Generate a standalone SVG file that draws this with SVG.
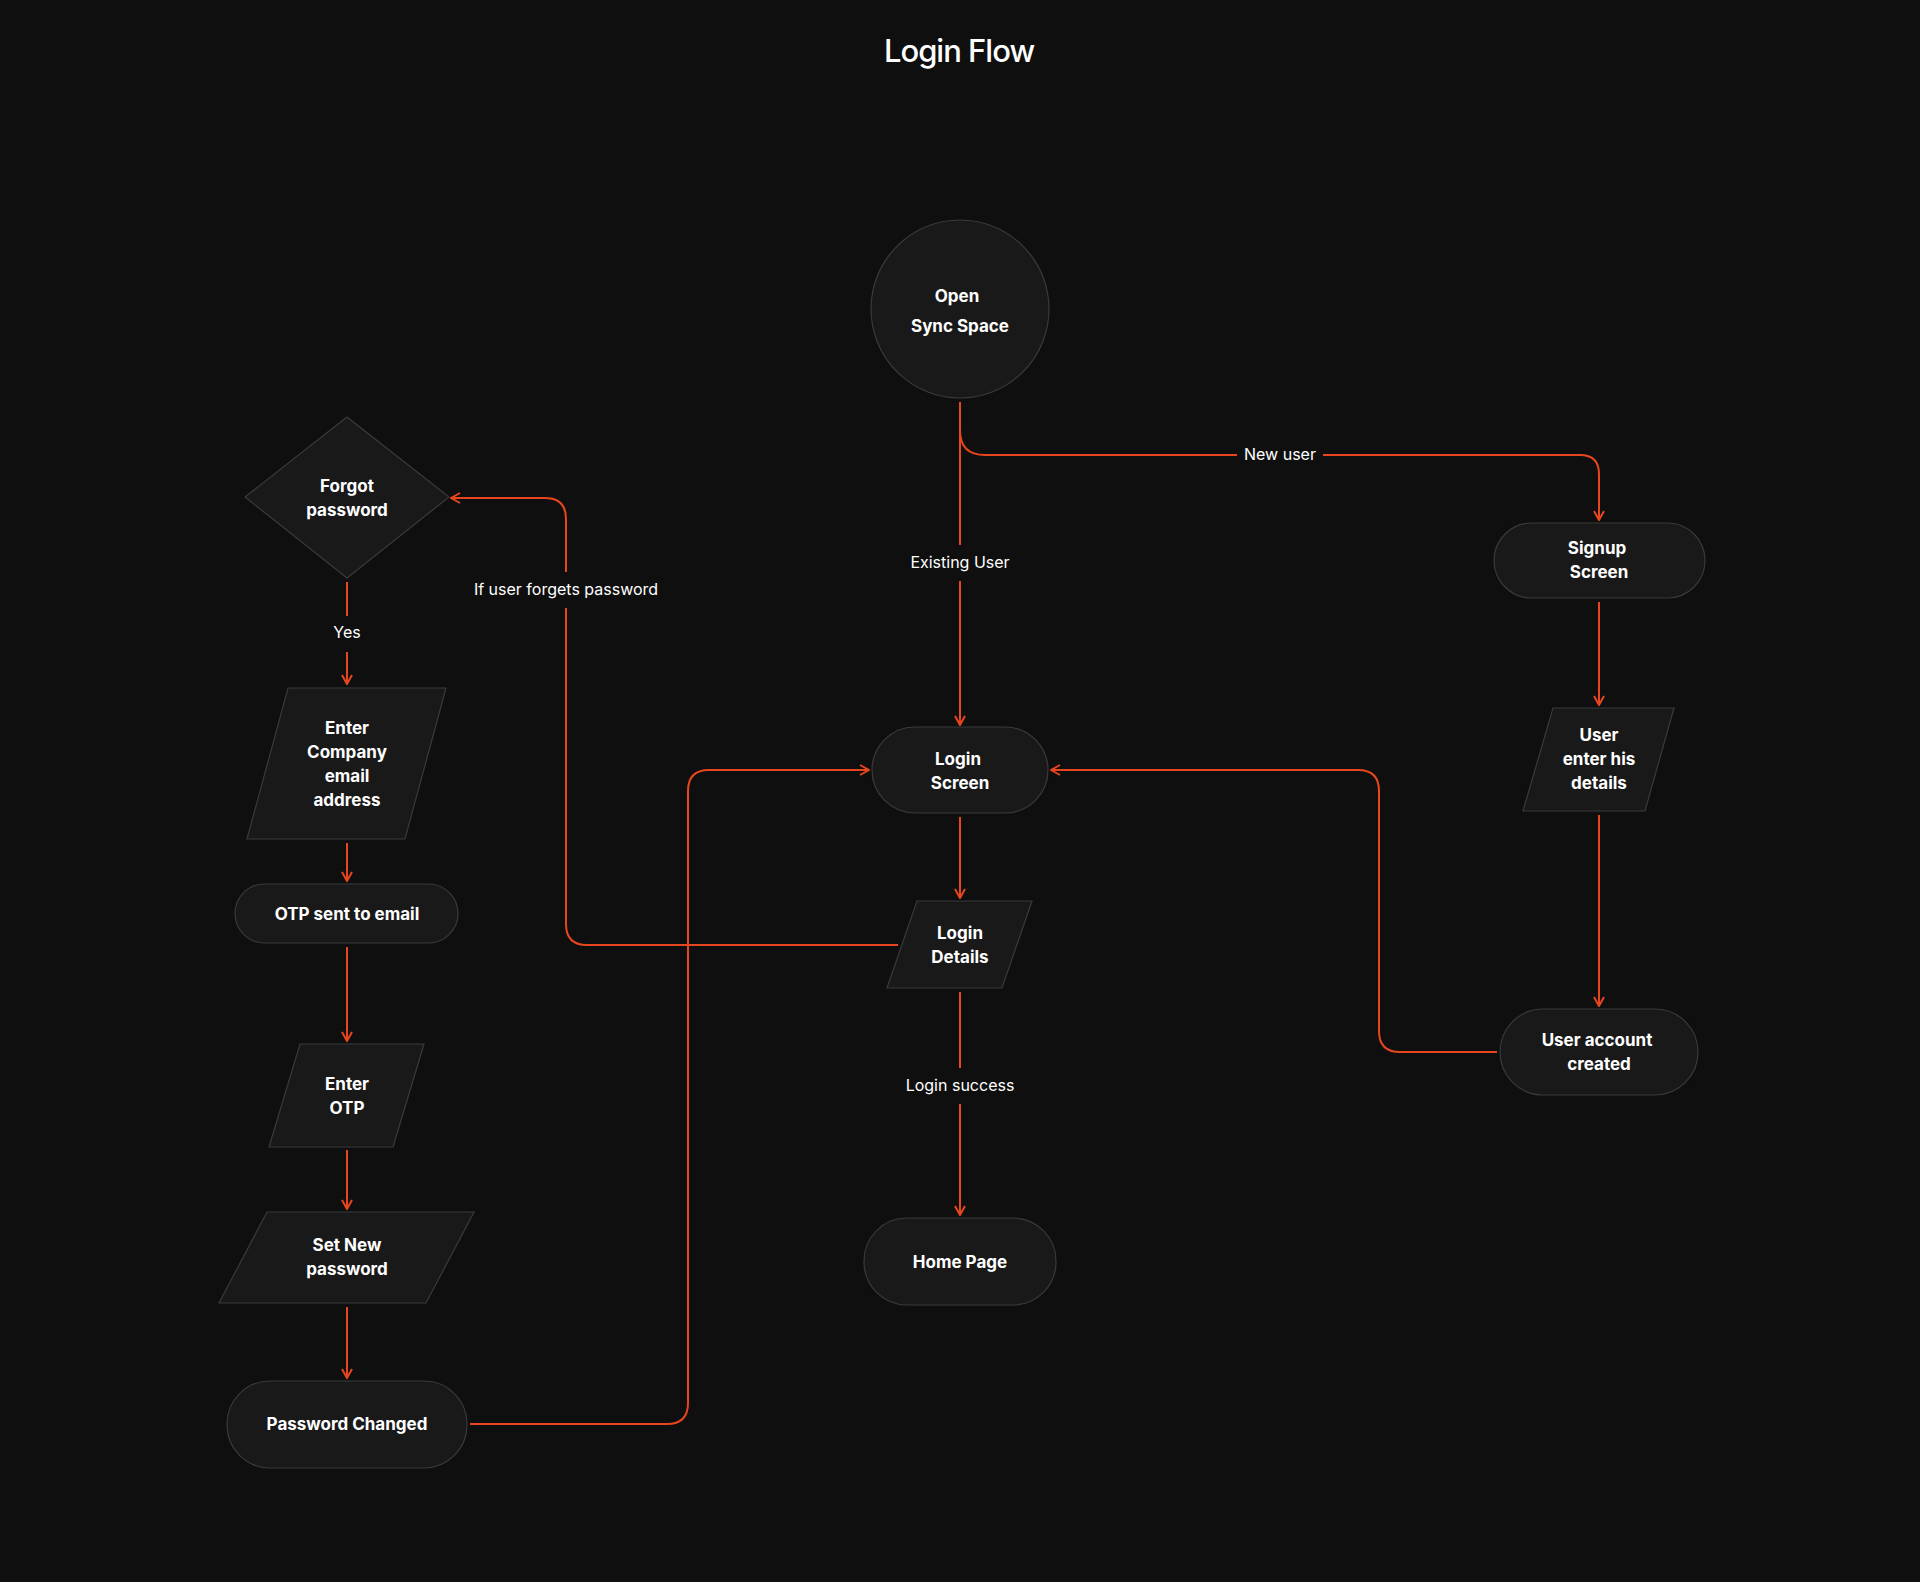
<svg xmlns="http://www.w3.org/2000/svg" width="1920" height="1582" viewBox="0 0 1920 1582">
<style>
.n{fill:#191919;stroke:#3a3a3a;stroke-width:1.2}
.t{fill:#fff;font-family:Inter,"Open Sans",sans-serif;font-weight:700;font-size:17px;text-anchor:middle}
.c{fill:none;stroke:#e8461e;stroke-width:2}
.l{fill:#fff;font-family:Inter,"Open Sans",sans-serif;font-size:16px;text-anchor:middle}
.bg{fill:#0f0f0f}
</style>
<defs>
<marker id="a" viewBox="0 0 12 12" refX="11" refY="6" markerWidth="12" markerHeight="12" markerUnits="userSpaceOnUse" orient="auto">
<path d="M2,1 L11,6 L2,11" fill="none" stroke="#e8461e" stroke-width="2"/>
</marker>
</defs>
<rect width="1920" height="1582" fill="#0f0f0f"/>
<text x="959" y="62" fill="#fff" font-family="Inter,'Open Sans',sans-serif" font-size="31" font-weight="500" text-anchor="middle" letter-spacing="-1">Login Flow</text>
<g id="connectors">
<path class="c" d="M960,402 V725" marker-end="url(#a)"/>
<path class="c" d="M960,430 Q960,455 985,455 H1580 Q1599,455 1599,474 V520" marker-end="url(#a)"/>
<path class="c" d="M1599,602 V705" marker-end="url(#a)"/>
<path class="c" d="M1599,815 V1006" marker-end="url(#a)"/>
<path class="c" d="M1497,1052 H1400 Q1379,1052 1379,1031 V791 Q1379,770 1358,770 H1051" marker-end="url(#a)"/>
<path class="c" d="M960,817 V898" marker-end="url(#a)"/>
<path class="c" d="M898,945 H587 Q566,945 566,924 V519 Q566,498 545,498 H451" marker-end="url(#a)"/>
<path class="c" d="M960,992 V1215" marker-end="url(#a)"/>
<path class="c" d="M347,582 V684" marker-end="url(#a)"/>
<path class="c" d="M347,843 V881" marker-end="url(#a)"/>
<path class="c" d="M347,947 V1041" marker-end="url(#a)"/>
<path class="c" d="M347,1150 V1209" marker-end="url(#a)"/>
<path class="c" d="M347,1307 V1378" marker-end="url(#a)"/>
<path class="c" d="M470,1424 H667 Q688,1424 688,1403 V791 Q688,770 709,770 H869" marker-end="url(#a)"/>
<rect class="bg" x="905" y="545" width="110" height="36"/><text class="l" x="960" y="568">Existing User</text>
<rect class="bg" x="1237" y="440" width="86" height="30"/><text class="l" x="1280" y="460">New user</text>
<rect class="bg" x="466" y="572" width="200" height="36"/><text class="l" x="566" y="595">If user forgets password</text>
<rect class="bg" x="900" y="1068" width="120" height="36"/><text class="l" x="960" y="1091">Login success</text>
<rect class="bg" x="320" y="616" width="54" height="36"/><text class="l" x="347" y="638">Yes</text>
</g>
<g id="open"><circle class="n" cx="960" cy="309" r="89"/><text class="t" x="957" y="302" font-weight="500" font-size="21">Open</text><text class="t" x="960" y="332" font-weight="500" font-size="21">Sync Space</text></g>
<g id="forgot"><path class="n" d="M347,417 L449,497 L347,578 L245,497 Z" stroke-linejoin="round"/><text class="t" x="347" y="492">Forgot</text><text class="t" x="347" y="516">password</text></g>
<g id="company"><path class="n" d="M288,688 H446 L405,839 H247 Z"/><text class="t" x="347" y="734">Enter</text><text class="t" x="347" y="758">Company</text><text class="t" x="347" y="782">email</text><text class="t" x="347" y="806">address</text></g>
<g id="otpsent"><rect class="n" x="235" y="884" width="223" height="59" rx="29.5"/><text class="t" x="347" y="920">OTP sent to email</text></g>
<g id="enterotp"><path class="n" d="M300,1044 H424 L393,1147 H269 Z"/><text class="t" x="347" y="1090">Enter</text><text class="t" x="347" y="1114">OTP</text></g>
<g id="setnew"><path class="n" d="M267,1212 H474 L426,1303 H219 Z"/><text class="t" x="347" y="1251">Set New</text><text class="t" x="347" y="1275">password</text></g>
<g id="pwchanged"><rect class="n" x="227" y="1381" width="240" height="87" rx="43"/><text class="t" x="347" y="1430">Password Changed</text></g>
<g id="loginscreen"><rect class="n" x="872" y="727" width="176" height="86" rx="43"/><text class="t" x="958" y="765">Login</text><text class="t" x="960" y="789">Screen</text></g>
<g id="logindetails"><path class="n" d="M917,901 H1032 L1002,988 H887 Z"/><text class="t" x="960" y="939">Login</text><text class="t" x="960" y="963">Details</text></g>
<g id="home"><rect class="n" x="864" y="1218" width="192" height="87" rx="43"/><text class="t" x="960" y="1268">Home Page</text></g>
<g id="signup"><rect class="n" x="1494" y="523" width="211" height="75" rx="37.5"/><text class="t" x="1597" y="554">Signup</text><text class="t" x="1599" y="578">Screen</text></g>
<g id="userdetails"><path class="n" d="M1553,708 H1674 L1645,811 H1523 Z"/><text class="t" x="1599" y="741">User</text><text class="t" x="1599" y="765">enter his</text><text class="t" x="1599" y="789">details</text></g>
<g id="created"><rect class="n" x="1500" y="1009" width="198" height="86" rx="43"/><text class="t" x="1597" y="1046">User account</text><text class="t" x="1599" y="1070">created</text></g>
</svg>
